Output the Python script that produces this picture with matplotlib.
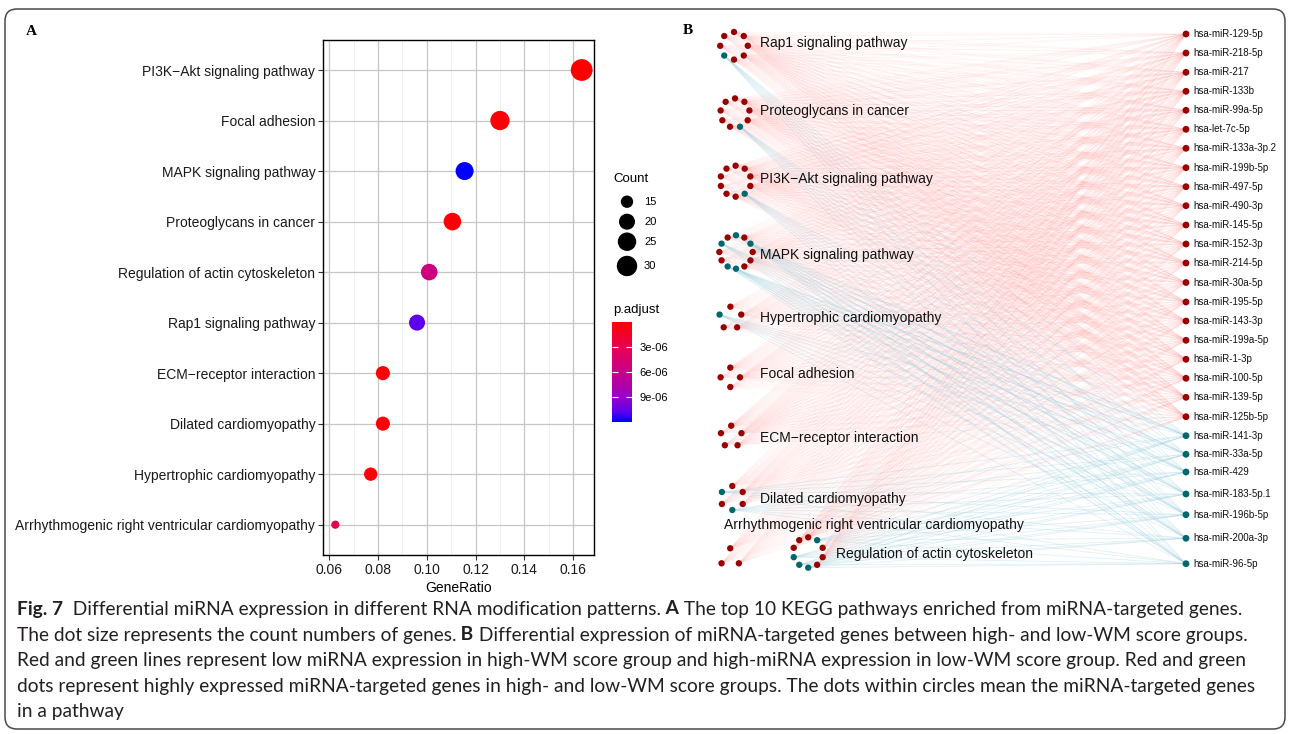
import numpy as np
import matplotlib
matplotlib.use("Agg")
import matplotlib.pyplot as plt
from matplotlib.colors import LinearSegmentedColormap, Normalize
from matplotlib.collections import LineCollection
from matplotlib.patches import FancyBboxPatch
import matplotlib.cm as cm

W, H = 1290, 734
SANS = ["Liberation Sans", "DejaVu Sans"]
CAP = ["Lato", "DejaVu Sans"]

# ---------------- panel A data ----------------
pathways = ["PI3K\u2212Akt signaling pathway", "Focal adhesion", "MAPK signaling pathway",
            "Proteoglycans in cancer", "Regulation of actin cytoskeleton", "Rap1 signaling pathway",
            "ECM\u2212receptor interaction", "Dilated cardiomyopathy", "Hypertrophic cardiomyopathy",
            "Arrhythmogenic right ventricular cardiomyopathy"]
gene_ratio = [0.1635, 0.130, 0.1155, 0.1105, 0.101, 0.096, 0.082, 0.082, 0.077, 0.0625]
counts = [34, 27, 24, 23, 21, 20, 17, 17, 16, 13]
p_adjust = [1.0e-08, 2.0e-07, 1.19e-05, 4.0e-07, 5.4e-06, 1.07e-05, 2.5e-07, 3.0e-07, 2.0e-07, 2.8e-06]
count_breaks = [15, 20, 25, 30]
p_breaks = [3e-06, 6e-06, 9e-06]
x_ticks = [0.06, 0.08, 0.10, 0.12, 0.14, 0.16]

# ---------------- panel B data ----------------
net_pathways = ["Rap1 signaling pathway", "Proteoglycans in cancer", "PI3K\u2212Akt signaling pathway",
                "MAPK signaling pathway", "Hypertrophic cardiomyopathy", "Focal adhesion",
                "ECM\u2212receptor interaction", "Dilated cardiomyopathy",
                "Arrhythmogenic right ventricular cardiomyopathy", "Regulation of actin cytoskeleton"]
# H = gene high in high-WM group (red), L = gene high in low-WM group (teal), clockwise from top
net_genes = ["HHHHHLHH", "HHHHLHHHH", "HHHHLHHHHH", "LHLHHHLLHHLH", "HHHHL",
             "HHHH", "HHHHH", "HHHLHL", "HHH", "HLHHHLLLHH"]
mirnas = ["hsa-miR-129-5p", "hsa-miR-218-5p", "hsa-miR-217", "hsa-miR-133b", "hsa-miR-99a-5p",
          "hsa-let-7c-5p", "hsa-miR-133a-3p.2", "hsa-miR-199b-5p", "hsa-miR-497-5p", "hsa-miR-490-3p",
          "hsa-miR-145-5p", "hsa-miR-152-3p", "hsa-miR-214-5p", "hsa-miR-30a-5p", "hsa-miR-195-5p",
          "hsa-miR-143-3p", "hsa-miR-199a-5p", "hsa-miR-1-3p", "hsa-miR-100-5p", "hsa-miR-139-5p",
          "hsa-miR-125b-5p", "hsa-miR-141-3p", "hsa-miR-33a-5p", "hsa-miR-429", "hsa-miR-183-5p.1",
          "hsa-miR-196b-5p", "hsa-miR-200a-3p", "hsa-miR-96-5p"]
mirna_group = "H" * 21 + "L" * 7

# ---------------- panel B layout (pixels) ----------------
circle_cx = [734.0, 735.0, 735.6, 736.0, 730.4, 730.3, 731.2, 732.3, 730.2, 808.2]
circle_cy = [45.8, 113.0, 181.2, 252.0, 318.1, 377.3, 436.5, 498.0, 558.3, 552.5]
circle_r = [13.8, 14.6, 15.5, 16.7, 11.4, 9.7, 10.8, 12.0, 10.0, 15.2]
label_xy = [(760, 43.5), (760, 111), (760, 179), (760, 254.5), (760, 318), (760, 374),
            (760, 438), (760, 499), (724, 525.5), (836, 554)]
mirna_x = 1186
mirna_y = [34, 53, 72.3, 91.3, 110.3, 129.3, 148.3, 167.7, 186.7, 205.7, 225, 244, 263, 282.5,
           302, 321, 340.3, 359.3, 378.3, 397.3, 416.7, 435.7, 454.3, 472, 494, 514.7, 538.3, 563.7]

RED = "#990000"
TEAL = "#00676b"

# ggplot red->blue gradient (Lab)
cmap = LinearSegmentedColormap.from_list(
    "padj", [(0, "#FF0000"), (0.25, "#E8004F"), (0.5, "#CA0089"), (0.75, "#9A00C3"),
             (0.9, "#5E00ED"), (1, "#0000FF")])
norm = Normalize(vmin=0, vmax=max(p_adjust))


def dot_area(c):
    # ggplot scale_size(range = c(3, 8)), area based
    cmin, cmax = min(counts), max(counts)
    size = 3 + 5 * np.sqrt((np.asarray(c, float) - cmin) / (cmax - cmin))
    return (size * 1.96) ** 2


fig = plt.figure(figsize=(W / 100, H / 100), dpi=100, facecolor="white")

# overlay in pixel coordinates
ov = fig.add_axes([0, 0, 1, 1], zorder=0)
ov.set_xlim(0, W)
ov.set_ylim(H, 0)
ov.axis("off")

ov.add_patch(FancyBboxPatch((5, 9), 1280, 720, boxstyle="round,pad=0,rounding_size=12",
                            fc="none", ec="#4a4a4a", lw=1.1))
ov.text(31, 31.5, "A", fontsize=11, fontweight="bold", family="Liberation Serif", ha="center", va="center")
ov.text(688, 31, "B", fontsize=11, fontweight="bold", family="Liberation Serif", ha="center", va="center")

# ---------------- panel A ----------------
ax = fig.add_axes([323 / W, 1 - 555 / H, 271 / W, 515.3 / H], zorder=2)
ypos = np.arange(len(pathways))[::-1]
ax.scatter(gene_ratio, ypos, s=dot_area(counts), c=p_adjust, cmap=cmap, norm=norm,
           edgecolors="none", zorder=3)
lo, hi = min(gene_ratio), max(gene_ratio)
pad = 0.05 * (hi - lo)
ax.set_xlim(lo - pad, hi + pad)
ax.set_ylim(-0.6, len(pathways) - 0.4)
ax.set_xticks(x_ticks)
ax.set_xticklabels([f"{v:.2f}" for v in x_ticks])
ax.set_xticks(np.arange(0.07, 0.16, 0.02), minor=True)
ax.set_yticks(ypos)
ax.set_yticklabels(pathways)
ax.grid(which="major", color="#c6c6c6", lw=0.9, zorder=0)
ax.grid(which="minor", axis="x", color="#e9e9e9", lw=0.5, zorder=0)
ax.set_axisbelow(True)
ax.tick_params(which="major", length=3.5, width=0.8, color="#333333", labelsize=10,
               labelcolor="#1a1a1a", pad=2)
ax.tick_params(which="minor", length=0)
for lab in ax.get_xticklabels() + ax.get_yticklabels():
    lab.set_family(SANS)
for sp in ax.spines.values():
    sp.set_color("black")
    sp.set_linewidth(1.0)
ax.set_xlabel("GeneRatio", fontsize=10, family=SANS, labelpad=3)

# size legend
ov.text(613, 179, "Count", fontsize=9.5, family=SANS, va="center")
leg_y = [201.7, 221.7, 241.7, 266]
ov.scatter([627] * len(count_breaks), leg_y, s=dot_area(count_breaks), c="black",
           edgecolors="none")
for yv, c in zip(leg_y, count_breaks):
    ov.text(644, yv, str(c), fontsize=8, family=SANS, va="center")

# colour bar
ov.text(613, 310, "p.adjust", fontsize=9.5, family=SANS, va="center")
cax = fig.add_axes([612.3 / W, 1 - 421.7 / H, 20 / W, 100 / H], zorder=2)
cb = fig.colorbar(cm.ScalarMappable(norm=norm, cmap=cmap), cax=cax)
cb.outline.set_visible(False)
cax.invert_yaxis()
cb.set_ticks(p_breaks)
cb.set_ticklabels([f"{v:.0e}" for v in p_breaks])
cax.tick_params(direction="in", color="white", length=4, width=0.8, left=True, right=True,
                labelsize=8, pad=5)
for lab in cax.get_yticklabels():
    lab.set_family(SANS)

# ---------------- panel B ----------------
red_segs, blue_segs = [], []
dots_x, dots_y, dots_c = [], [], []
for cx, cy, r, genes in zip(circle_cx, circle_cy, circle_r, net_genes):
    n = len(genes)
    ang = 2 * np.pi * np.arange(n) / n
    gx = cx + r * np.sin(ang)
    gy = cy - r * np.cos(ang)
    for x0, y0, g in zip(gx, gy, genes):
        dots_x.append(x0)
        dots_y.append(y0)
        dots_c.append(RED if g == "H" else TEAL)
        for my, mg in zip(mirna_y, mirna_group):
            if mg == g:
                (red_segs if g == "H" else blue_segs).append([(x0, y0), (mirna_x, my)])

ov.add_collection(LineCollection(red_segs, colors="#ff7a7a", linewidths=0.5, alpha=0.075, zorder=1))
ov.add_collection(LineCollection(blue_segs, colors="#9ccfdf", linewidths=0.6, alpha=0.3, zorder=1))
ov.scatter(dots_x, dots_y, s=21, c=dots_c, edgecolors="none", zorder=3)
ov.scatter([mirna_x] * len(mirnas), mirna_y, s=24,
           c=[RED if g == "H" else TEAL for g in mirna_group], edgecolors="none", zorder=3)
for (lx, ly), name in zip(label_xy, net_pathways):
    ov.text(lx, ly, name, fontsize=10, family=SANS, va="center", ha="left", color="#111111", zorder=4)
for my, name in zip(mirna_y, mirnas):
    ov.text(1193, my, name, fontsize=7, family=SANS, va="center", ha="left", color="#111111", zorder=4)

# ---------------- caption ----------------
caption = [
    [("Fig. 7", True), ("  Differential miRNA expression in different RNA modification patterns.", False),
     (" A", True), (" The top 10 KEGG pathways enriched from miRNA-targeted genes.", False)],
    [("The dot size represents the count numbers of genes.", False), (" B", True),
     (" Differential expression of miRNA-targeted genes between high- and low-WM score groups.", False)],
    [("Red and green lines represent low miRNA expression in high-WM score group and high-miRNA "
      "expression in low-WM score group. Red and green", False)],
    [("dots represent highly expressed miRNA-targeted genes in high- and low-WM score groups. "
      "The dots within circles mean the miRNA-targeted genes", False)],
    [("in a pathway", False)],
]
baselines = [614.5, 640.5, 666.3, 691.7, 716.5]
renderer = fig.canvas.get_renderer()


def draw_runs(x, y, runs, size):
    arts = []
    for s, bold in runs:
        t = ov.text(x, y, s, fontsize=size, fontweight="bold" if bold else "normal",
                    family=CAP, color="#231f20", va="baseline", ha="left")
        arts.append(t)
        x += t.get_window_extent(renderer).width
    return x, arts


end, tmp = draw_runs(17, baselines[0], caption[0], 12.5)
for t in tmp:
    t.remove()
cap_size = 12.5 * (1245 - 17) / (end - 17)
for yb, runs in zip(baselines, caption):
    draw_runs(17, yb, runs, cap_size)

fig.savefig("out.png", dpi=100, facecolor="white")
